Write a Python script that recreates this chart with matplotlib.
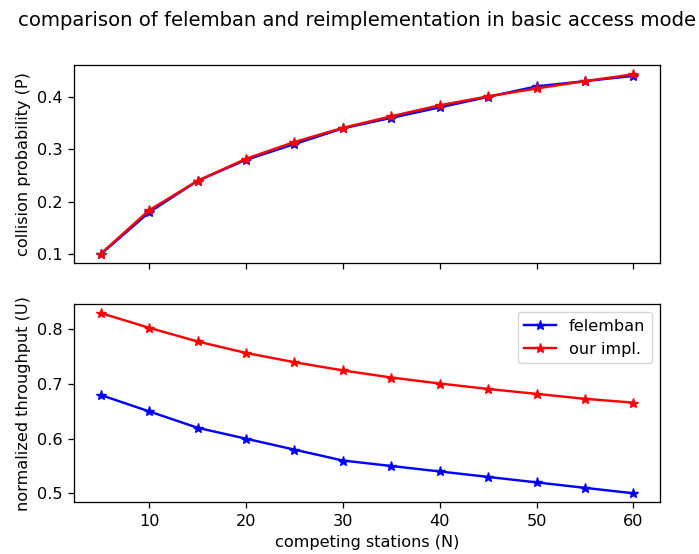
import numpy as np
import matplotlib
matplotlib.use("Agg")
import matplotlib.pyplot as plt

# competing stations
stations = [5, 10, 15, 20, 25, 30, 35, 40, 45, 50, 55, 60]

# collision probability
p_felemban = [0.10, 0.18, 0.24, 0.28, 0.31, 0.34, 0.36, 0.38, 0.40, 0.42, 0.43, 0.44]
p_ours = [0.101, 0.184, 0.240, 0.282, 0.314, 0.341, 0.363, 0.384, 0.401, 0.416, 0.430, 0.443]

# normalized throughput
u_felemban = [0.68, 0.65, 0.62, 0.60, 0.58, 0.56, 0.55, 0.54, 0.53, 0.52, 0.51, 0.50]
u_ours = [0.830, 0.803, 0.778, 0.757, 0.740, 0.725, 0.712, 0.701, 0.691, 0.682, 0.673, 0.666]

# original looks like ~1.16x scaled default style
s = 1.16
plt.rcParams.update({
    'font.size': 10 * s,
    'lines.linewidth': 1.5 * s,
    'lines.markersize': 6 * s,
    'axes.linewidth': 0.8 * s,
    'xtick.major.size': 3.5 * s,
    'ytick.major.size': 3.5 * s,
    'xtick.major.width': 0.8 * s,
    'ytick.major.width': 0.8 * s,
    'xtick.major.pad': 3.5 * s,
    'ytick.major.pad': 3.5 * s,
    'axes.labelpad': 4 * s,
})

fig = plt.figure(figsize=(6.99, 5.54), dpi=100)
ax1 = fig.add_axes([0.1059, 0.5247, 0.8383, 0.3574])
ax2 = fig.add_axes([0.1059, 0.0933, 0.8383, 0.3579], sharex=ax1)

# oberer plot: kollisionswahrscheinlichkeit
ax1.plot(stations, p_felemban, 'b-*', label='felemban')
ax1.plot(stations, p_ours, 'r-*', label='our impl.')
ax1.set_ylabel('collision probability (P)')
plt.setp(ax1.get_xticklabels(), visible=False)

# unterer plot: durchsatz
ax2.plot(stations, u_felemban, 'b-*', label='felemban')
ax2.plot(stations, u_ours, 'r-*', label='our impl.')
ax2.set_ylabel('normalized throughput (U)')
ax2.set_xlabel('competing stations (N)')
ax2.legend(loc='upper right')

fig.text(18 / 699, 1 - 21 / 554, 'comparison of felemban and reimplementation in basic access mode',
         ha='left', va='center', fontsize=14.15)

fig.savefig('out.png', dpi=100)
